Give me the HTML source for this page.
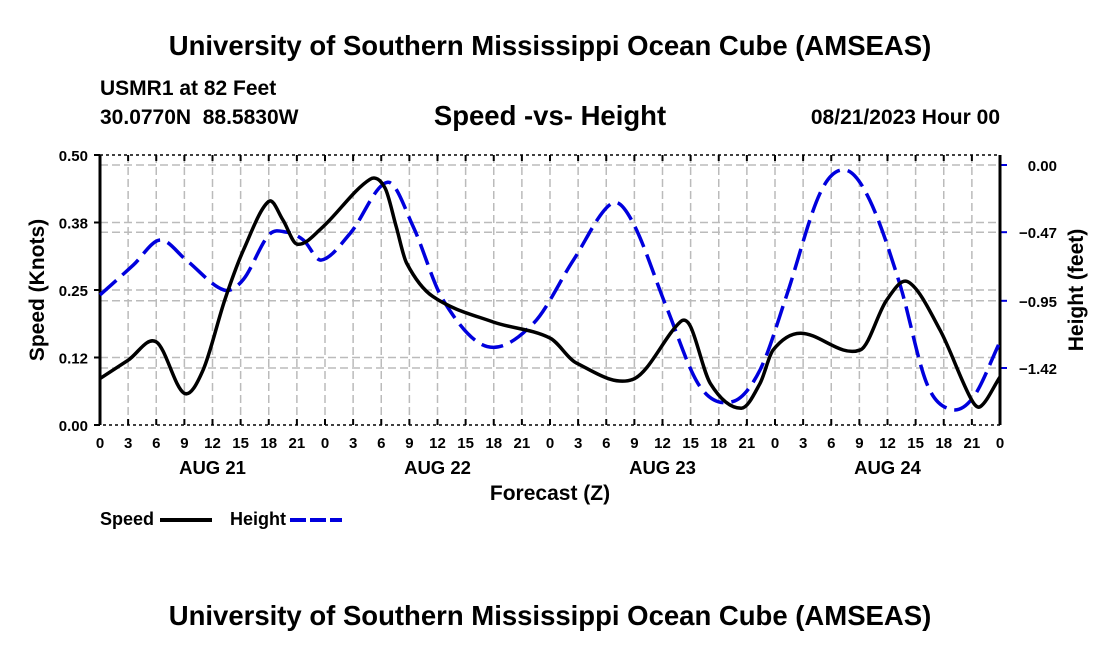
<!DOCTYPE html>
<html><head><meta charset="utf-8"><style>
body{margin:0;background:#fff;width:1100px;height:650px;overflow:hidden}
svg text{font-family:"Liberation Sans",Arial,sans-serif;font-weight:bold;fill:#000;white-space:pre}
</style></head><body>
<svg id="chart" width="1100" height="650" xmlns="http://www.w3.org/2000/svg">
<text x="550" y="55" font-size="27.5" text-anchor="middle">University of Southern Mississippi Ocean Cube (AMSEAS)</text>
<text x="100" y="95" font-size="21">USMR1 at 82 Feet</text>
<text x="100" y="124" font-size="21">30.0770N  88.5830W</text>
<text x="550" y="125" font-size="27.5" text-anchor="middle">Speed -vs- Height</text>
<text x="1000" y="124" font-size="21" text-anchor="end">08/21/2023 Hour 00</text>
<g id="grid"></g>
<g id="axes"></g>
<g id="series"></g>
<text transform="translate(44,290) rotate(-90)" font-size="21" text-anchor="middle">Speed (Knots)</text>
<text transform="translate(1083,290) rotate(-90)" font-size="21" text-anchor="middle">Height (feet)</text>
<text x="550" y="500" font-size="21" text-anchor="middle">Forecast (Z)</text>
<g>
<text x="100" y="525" font-size="18">Speed</text>
<line x1="160" y1="520" x2="212" y2="520" stroke="#000" stroke-width="4"/>
<text x="230" y="525" font-size="18">Height</text>
<line x1="290" y1="520" x2="342" y2="520" stroke="#0000dd" stroke-width="4" stroke-dasharray="16,4"/>
</g>
<text x="550" y="625" font-size="27.5" text-anchor="middle">University of Southern Mississippi Ocean Cube (AMSEAS)</text>
</svg>
<script>
const speedHours=[0,3,6,8.96,11,13.3,15.3,18,19.5,21,23.6,28.8,30.4,31.6,32.7,35.5,41.9,48,50.8,56.9,61.9,63,65.1,68.4,70.4,71.8,74.7,81.1,83.9,86.2,89.6,92.8,93.9,96];
const speedValues=[0.086,0.12,0.154,0.059,0.102,0.231,0.324,0.414,0.38,0.335,0.364,0.455,0.439,0.367,0.30,0.238,0.191,0.161,0.115,0.085,0.191,0.182,0.077,0.031,0.077,0.139,0.17,0.139,0.231,0.265,0.176,0.052,0.034,0.089];
const heightHours=[0,3.55,6.4,9.2,13.2,15.3,18,19.9,21.7,23.6,26.7,30.7,33.4,36.6,41.3,46.2,50.5,54.6,56.9,60.4,64,67.5,70.4,73.2,76.8,79.5,82.1,85.3,88.2,90.8,93.2,96];
const heightValues=[-0.909,-0.70,-0.525,-0.665,-0.874,-0.80,-0.49,-0.47,-0.525,-0.665,-0.477,-0.121,-0.43,-0.945,-1.27,-1.11,-0.665,-0.268,-0.41,-0.99,-1.55,-1.655,-1.434,-0.92,-0.198,-0.035,-0.245,-0.83,-1.53,-1.71,-1.62,-1.236];
const leftTicks=[0,0.125,0.25,0.375,0.5];
const leftTickLabels=["0.00","0.12","0.25","0.38","0.50"];
const rightTicks=[0,-0.47,-0.95,-1.42];
const rightTickLabels=["0.00","\u22120.47","\u22120.95","\u22121.42"];
const dayLabels=["AUG 21","AUG 22","AUG 23","AUG 24"];

const X0=100,X1=1000,YT=155,YB=425;
const xs=h=>X0+(X1-X0)*h/96;
const ys=v=>YB-(YB-YT)*v/0.5;
const yh=v=>165+(368-165)*v/(-1.42);
const NS="http://www.w3.org/2000/svg";
function mk(tag,attrs,parent){const e=document.createElementNS(NS,tag);for(const k in attrs)e.setAttribute(k,attrs[k]);parent.appendChild(e);return e;}
const grid=document.getElementById('grid'),axes=document.getElementById('axes'),series=document.getElementById('series');
const gs={stroke:"#bbb","stroke-width":1.5,"stroke-dasharray":"8,4"};
for(let h=3;h<96;h+=3){const l=mk('line',Object.assign({x1:xs(h),x2:xs(h),y1:YT,y2:YB},gs),grid);

}
leftTicks.forEach((v,i)=>{if(v>0&&v<0.5){const l=mk('line',Object.assign({x1:X0,x2:X1,y1:ys(v),y2:ys(v)},gs),grid);

}
const t=mk('line',{x1:X0-6,x2:X0,y1:ys(v),y2:ys(v),stroke:"#000","stroke-width":2},axes);


const tx=mk('text',{x:X0-12,y:ys(v)+6,"font-size":15,"text-anchor":"end"},axes);tx.textContent=leftTickLabels[i];

});
rightTicks.forEach((v,i)=>{const l=mk('line',Object.assign({x1:X0,x2:X1,y1:yh(v),y2:yh(v)},gs),grid);


const t=mk('line',{x1:X1,x2:X1+7,y1:yh(v),y2:yh(v),stroke:"#0000dd","stroke-width":2},axes);


const tx=mk('text',{x:X1+57,y:yh(v)+6,"font-size":15,"text-anchor":"end"},axes);tx.textContent=rightTickLabels[i];

});
for(let h=0;h<=96;h+=3){
const t1=mk('line',{x1:xs(h),x2:xs(h),y1:YB,y2:YB-6,stroke:"#000","stroke-width":2},axes);


const t2=mk('line',{x1:xs(h),x2:xs(h),y1:YT,y2:YT+6,stroke:"#000","stroke-width":2},axes);


const tx=mk('text',{x:xs(h),y:YB+23,"font-size":15,"text-anchor":"middle"},axes);tx.textContent=String(h%24);

}
dayLabels.forEach((d,i)=>{const tx=mk('text',{x:xs(i*24+12),y:YB+49,"font-size":18.5,"text-anchor":"middle"},axes);tx.textContent=d;

});
const fr=mk('rect',{x:X0,y:YT,width:X1-X0,height:YB-YT,fill:"none",stroke:"#000","stroke-width":1.5,"stroke-dasharray":"3,3"},axes);


const la=mk('line',{x1:X0,x2:X0,y1:YT,y2:YB,stroke:"#000","stroke-width":3},axes);


const ra=mk('line',{x1:X1,x2:X1,y1:YT,y2:YB,stroke:"#000","stroke-width":3},axes);


function smooth(p){const n=p.length,m=[];
for(let i=0;i<n;i++){if(i==0)m.push((p[1][1]-p[0][1])/(p[1][0]-p[0][0]));
else if(i==n-1)m.push((p[i][1]-p[i-1][1])/(p[i][0]-p[i-1][0]));
else m.push((p[i+1][1]-p[i-1][1])/(p[i+1][0]-p[i-1][0]));}
let d=`M${p[0][0]},${p[0][1]}`;
for(let i=0;i<n-1;i++){const dx=(p[i+1][0]-p[i][0])/3;
d+=` C${p[i][0]+dx},${p[i][1]+m[i]*dx} ${p[i+1][0]-dx},${p[i+1][1]-m[i+1]*dx} ${p[i+1][0]},${p[i+1][1]}`;}return d;}
const hp=mk('path',{d:smooth(heightHours.map((h,i)=>[xs(h),yh(heightValues[i])])),fill:"none",stroke:"#0000dd","stroke-width":3.5,"stroke-dasharray":"22,8"},series);


const sp=mk('path',{d:smooth(speedHours.map((h,i)=>[xs(h),ys(speedValues[i])])),fill:"none",stroke:"#000","stroke-width":3.5},series);


</script>
</body></html>
